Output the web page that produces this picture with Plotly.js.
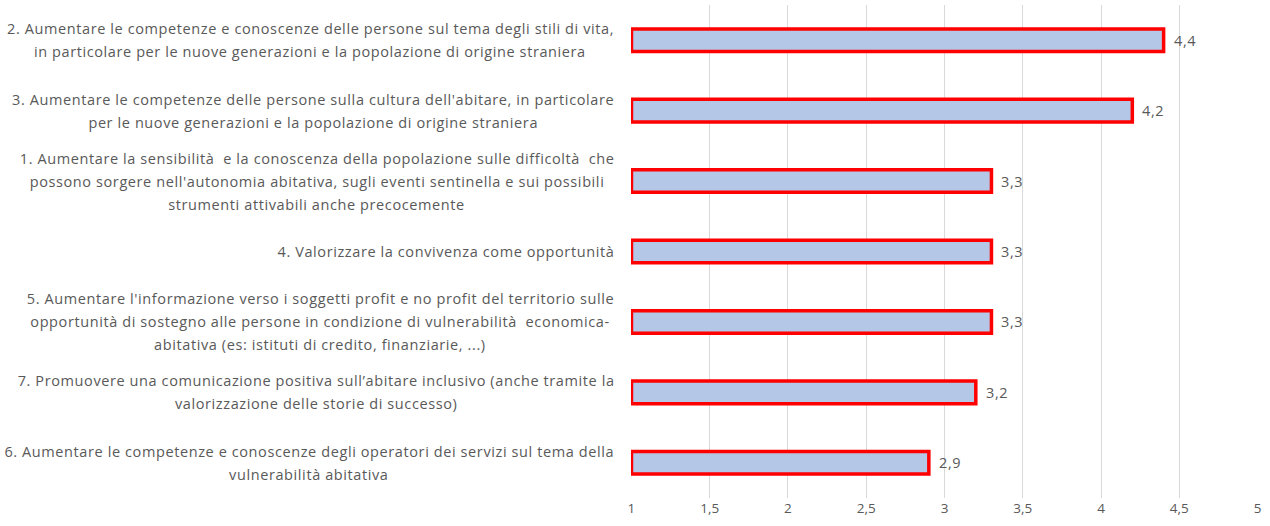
<!DOCTYPE html>
<html>
<head>
<meta charset="utf-8">
<script src="https://cdn.plot.ly/plotly-3.0.1.min.js"></script>
<style>
html,body{margin:0;padding:0;background:#fff;}
#chart{width:1270px;height:526px;}
#chart .annotation-text-g text{letter-spacing:0.6px;}
</style>
</head>
<body>
<div id="chart"></div>
<script>
const categories = ["Obiettivo 2", "Obiettivo 3", "Obiettivo 1", "Obiettivo 4", "Obiettivo 5", "Obiettivo 7", "Obiettivo 6"];
const labelLines = [
  ["2. Aumentare le competenze e conoscenze delle persone sul tema degli stili di vita,", "in particolare per le nuove generazioni e la popolazione di origine straniera"],
  ["3. Aumentare le competenze delle persone sulla cultura dell'abitare, in particolare", "per le nuove generazioni e la popolazione di origine straniera"],
  ["1. Aumentare la sensibilità  e la conoscenza della popolazione sulle difficoltà  che", "possono sorgere nell'autonomia abitativa, sugli eventi sentinella e sui possibili", "strumenti attivabili anche precocemente"],
  ["4. Valorizzare la convivenza come opportunità"],
  ["5. Aumentare l'informazione verso i soggetti profit e no profit del territorio sulle", "opportunità di sostegno alle persone in condizione di vulnerabilità  economica-", "abitativa (es: istituti di credito, finanziarie, ...)"],
  ["7. Promuovere una comunicazione positiva sull’abitare inclusivo (anche tramite la", "valorizzazione delle storie di successo)"],
  ["6. Aumentare le competenze e conoscenze degli operatori dei servizi sul tema della", "vulnerabilità abitativa"]
];
const values = [4.4, 4.2, 3.3, 3.3, 3.3, 3.2, 2.9];
const tickVals = [1, 1.5, 2, 2.5, 3, 3.5, 4, 4.5, 5];

const FONT = "Open Sans";
const FS = 14.5;
const LS = 0.6;
const textColor = "#595959";
const canvas = document.createElement("canvas");
const ctx = canvas.getContext("2d");
ctx.font = FS + "px '" + FONT + "'";
const textWidth = s => ctx.measureText(s).width + LS * s.length;

const annotations = [];
categories.forEach((c, k) => {
  const lines = labelLines[k];
  const maxW = Math.max(...lines.map(textWidth));
  const n = lines.length;
  lines.forEach((line, i) => {
    annotations.push({
      xref: "paper", yref: "y", x: 0, y: c,
      text: line, showarrow: false,
      xanchor: "center", yanchor: "middle",
      xshift: -17 - maxW / 2,
      yshift: ((n - 1) / 2 - i) * 23,
      font: {family: FONT, size: FS, color: textColor}
    });
  });
  annotations.push({
    xref: "x", yref: "y", x: values[k], y: c,
    text: values[k].toFixed(1).replace(".", ","), showarrow: false,
    xanchor: "left", yanchor: "middle", xshift: 9,
    font: {family: FONT, size: FS, color: textColor}
  });
});

const trace = {
  type: "bar", orientation: "h",
  y: categories, x: values.map(v => v - 1), base: 1,
  width: 0.32,
  marker: {color: "#B4C7E7", line: {color: "#FF0000", width: 3.5}},
  hoverinfo: "none"
};

const layout = {
  width: 1270, height: 526,
  margin: {l: 631, r: 12, t: 5, b: 28},
  paper_bgcolor: "#ffffff", plot_bgcolor: "#ffffff",
  showlegend: false,
  separators: ",.",
  font: {family: FONT, size: 14, color: textColor},
  xaxis: {
    range: [0.997, 5.003], tickvals: tickVals,
    ticktext: tickVals.map(v => String(v).replace(".", ",")),
    showgrid: true, gridcolor: "#D9D9D9", gridwidth: 1,
    zeroline: false, showline: false, ticks: "",
    tickfont: {family: FONT, size: 13.5, color: textColor}
  },
  yaxis: {
    type: "category", categoryorder: "array", categoryarray: categories,
    autorange: "reversed", showticklabels: false, showgrid: false,
    zeroline: false, showline: false, ticks: ""
  },
  annotations: annotations
};

Plotly.newPlot("chart", [trace], layout, {staticPlot: true, displayModeBar: false});
</script>
</body>
</html>
